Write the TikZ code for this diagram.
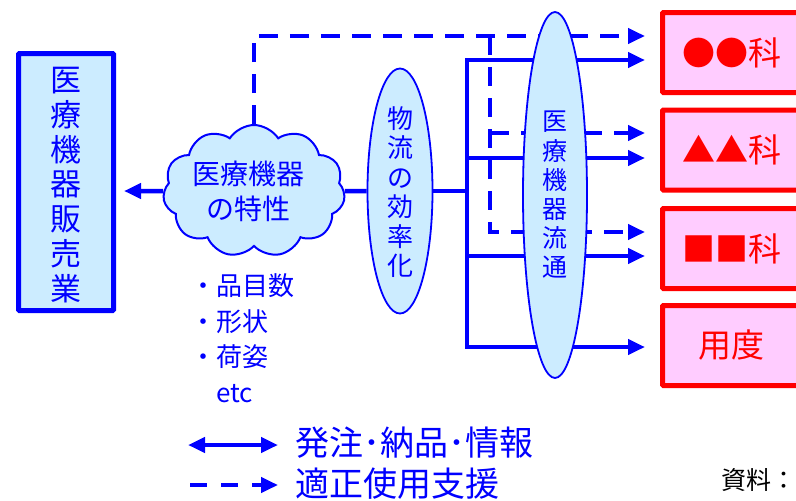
\documentclass[tikz,border=0pt]{standalone}
\usepackage{fontspec}
\setmainfont{Noto Sans CJK JP}
\usetikzlibrary{arrows.meta,shapes.symbols,shapes.geometric}
\definecolor{myblue}{HTML}{0000FF}
\definecolor{lightblue}{HTML}{CCECFF}
\definecolor{mypink}{HTML}{FFCCFF}
\definecolor{myred}{HTML}{FF0000}
\pgfdeclarelayer{back0}
\pgfdeclarelayer{background}
\pgfsetlayers{back0,background,main}
\begin{document}
\begin{tikzpicture}[x=1pt,y=-1pt,
  tip/.style={-{Triangle[length=17pt,width=15pt]}},
  tips/.style={{Triangle[length=17pt,width=15pt]}-{Triangle[length=17pt,width=15pt]}},
  sol/.style={draw=myblue,line width=4.5pt},
  dsh/.style={draw=myblue,line width=4pt,dash pattern=on 19pt off 12pt},
  bluetxt/.style={text=myblue,align=center,inner sep=0pt},
  redbox/.style={draw=myred,line width=5pt,fill=mypink,minimum width=138pt,minimum height=80pt,inner sep=0pt,rounded corners=1pt,text=myred,font=\fontsize{33}{33}\selectfont},
  oval/.style={ellipse,draw=myblue,line width=1.8pt,fill=lightblue,inner sep=0pt}
]
\useasboundingbox (0,0) rectangle (796,501);
\begin{pgfonlayer}{back0}
\fill[white] (0,0) rectangle (796,501);
\end{pgfonlayer}

% left box
\node[draw=myblue,line width=5pt,fill=lightblue,minimum width=95pt,minimum height=257pt,inner sep=0pt,rounded corners=1pt] (sales) at (66,182) {};
\node[bluetxt,font=\fontsize{31}{34.7}\selectfont] (salest) at (66,185) {医\\療\\機\\器\\販\\売\\業};

% cloud
\node[cloud,cloud puffs=11,cloud puff arc=115,cloud ignores aspect,draw=myblue,line width=2pt,fill=lightblue,minimum width=182pt,minimum height=132pt,inner sep=0pt] (cloud) at (254,191) {};
\node[bluetxt,font=\fontsize{28}{35}\selectfont] (cloudt) at (248,191) {医療機器\\の特性};

% ellipses
\node[oval,minimum width=65pt,minimum height=245pt] (e1) at (400,191) {};
\node[bluetxt,font=\fontsize{26}{29.4}\selectfont] (e1t) at (400,192) {物\\流\\の\\効\\率\\化};
\node[oval,minimum width=64pt,minimum height=366pt] (e2) at (555,195) {};
\node[bluetxt,font=\fontsize{25}{29.2}\selectfont] (e2t) at (555,195) {医\\療\\機\\器\\流\\通};

% red boxes
\node[redbox] (r1) at (731.5,52.5) {●●科};
\node[redbox] (r2) at (731.5,150) {▲▲科};
\node[redbox] (r3) at (731.5,248.5) {■■科};
\node[redbox] (r4) at (731.5,345.5) {用度};

% coordinates
\coordinate (t0) at (124,191);
\coordinate (bm) at (467,191);
\coordinate (b1) at (467,60);
\coordinate (b2) at (467,158);
\coordinate (b3) at (467,256);
\coordinate (b4) at (467,347);
\coordinate (s1) at (645,60);
\coordinate (s2) at (645,158);
\coordinate (s3) at (645,256);
\coordinate (s4) at (645,347);
\coordinate (v1) at (490,36);
\coordinate (v2) at (490,133);
\coordinate (v3) at (490,232);
\coordinate (d1) at (645,36);
\coordinate (d2) at (645,133);
\coordinate (d3) at (645,232);

\begin{pgfonlayer}{background}
\draw[dsh,tip] (cloud.north) |- (d1);
\draw[dsh,tip] (v1) -- (v3) -- (d3);
\draw[dsh,tip] (v2) -- (d2);
\draw[sol,tips] (s1) -- (b1) -- (b4) -- (s4);
\draw[sol,tip] (b2) -- (s2);
\draw[sol,tip] (b3) -- (s3);
\draw[sol] (e1.east) -- (bm);
\draw[sol] (cloud.east) -- (e1.west);
\draw[sol,tip] (cloud.west) -- (t0);
\end{pgfonlayer}

% features
\node[bluetxt,anchor=west,align=left,font=\fontsize{26}{35.5}\selectfont] (feat) at (190,338) {・品目数\\・形状\\・荷姿\\\hphantom{・}etc};

% legend
\coordinate (la) at (188,445);
\coordinate (lb) at (278,445);
\coordinate (lc) at (190,485);
\coordinate (ld) at (278,485);
\draw[sol,tips] (la) -- (lb);
\draw[dsh,tip,dash pattern=on 17pt off 14pt] (lc) -- (ld);
\node[bluetxt,anchor=west,font=\fontsize{34}{34}\selectfont] (leg1) at (295,443) {発注･納品･情報};
\node[bluetxt,anchor=west,font=\fontsize{34}{34}\selectfont] (leg2) at (295,484) {適正使用支援};

\node[anchor=west,inner sep=0pt,font=\fontsize{25}{25}\selectfont] (src) at (721,480) {資料：};
\end{tikzpicture}
\end{document}
